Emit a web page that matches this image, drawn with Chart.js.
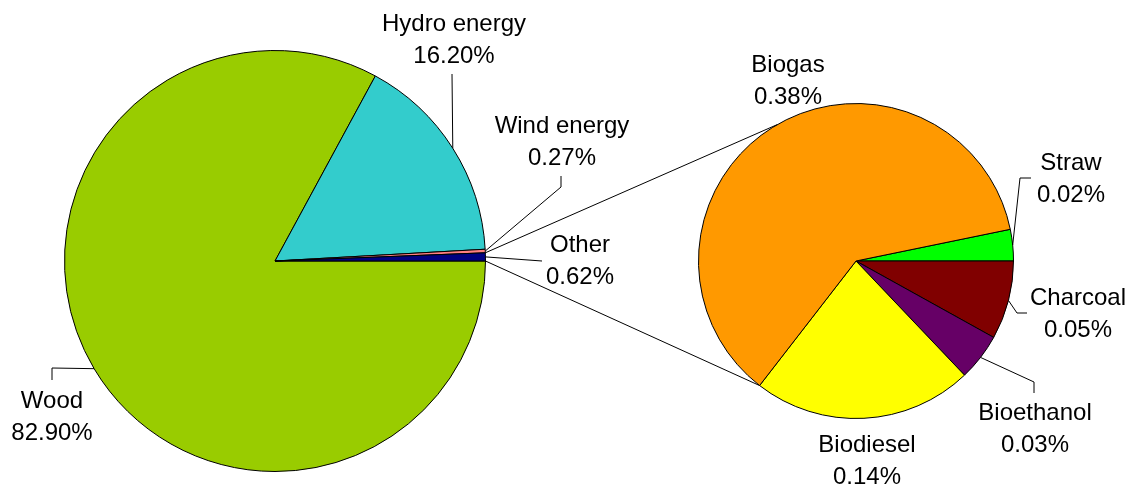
<!DOCTYPE html>
<html>
<head>
<meta charset="utf-8">
<script src="https://cdn.jsdelivr.net/npm/chart.js@4"></script>
<style>
  body { margin: 0; background: #fff; }
  #wrap { position: relative; width: 1131px; height: 485px; }
  #wrap canvas { position: absolute; left: 0; top: 0; }
</style>
</head>
<body>
<div id="wrap">
  <canvas id="mainPie" width="1131" height="485"></canvas>
  <canvas id="subPie" width="1131" height="485"></canvas>
</div>
<script>
// Main pie
const mainLabels = ["Wood", "Hydro energy", "Wind energy", "Other"];
const mainValues = [82.90, 16.20, 0.27, 0.62];
const mainColors = ["#99CC00", "#33CCCC", "#FF8080", "#000080"];

// Breakdown of "Other"
const subLabels = ["Straw", "Charcoal", "Bioethanol", "Biodiesel", "Biogas"];
const subValues = [0.02, 0.05, 0.03, 0.14, 0.38];
const subColors = ["#00FF00", "#800000", "#660066", "#FFFF00", "#FF9900"];

const FONT = '24px "Liberation Sans", Arial, sans-serif';
const LINE_GAP = 32;

// label text position (center x, first baseline) and leader bend points
const mainLabelLayout = [
  { x: 52, y: 408, leader: [[52, 368], [52, 380]] },
  { x: 454, y: 31, leader: [[452, 74]] },
  { x: 562, y: 133, leader: [[561, 187], [561, 176]] },
  { x: 580, y: 252, leader: [[542, 261]] },
];
const subLabelLayout = [
  { x: 1071, y: 170, leader: [[1020, 178], [1031, 178]] },
  { x: 1078, y: 305, leader: [[1017, 313], [1027, 313]] },
  { x: 1035, y: 420, leader: [[1034, 382], [1034, 393]] },
  { x: 867, y: 452, leader: null },
  { x: 788, y: 72, leader: null },
];
const CONNECTOR_TOP_ANGLE = -120; // degrees on the sub pie

let mainChart;

function fmt(v) {
  return v.toFixed(2) + "%";
}

function labelPlugin(labels, values, layout) {
  return {
    id: "pieLabels",
    afterDraw(chart) {
      const ctx = chart.ctx;
      const arcs = chart.getDatasetMeta(0).data;
      ctx.save();
      ctx.strokeStyle = "#000";
      ctx.lineWidth = 1;
      arcs.forEach((arc, i) => {
        const l = layout[i];
        if (l.leader) {
          const mid = (arc.startAngle + arc.endAngle) / 2;
          ctx.beginPath();
          ctx.moveTo(arc.x + Math.cos(mid) * arc.outerRadius, arc.y + Math.sin(mid) * arc.outerRadius);
          l.leader.forEach((p) => ctx.lineTo(p[0], p[1]));
          ctx.stroke();
        }
        ctx.fillStyle = "#000";
        ctx.font = FONT;
        ctx.textAlign = "center";
        ctx.textBaseline = "alphabetic";
        ctx.fillText(labels[i], l.x, l.y);
        ctx.fillText(fmt(values[i]), l.x, l.y + LINE_GAP);
      });
      ctx.restore();
    },
  };
}

// lines joining the "Other" slice to the second pie
const connectorPlugin = {
  id: "connectors",
  afterDraw(chart) {
    if (!mainChart) return;
    const other = mainChart.getDatasetMeta(0).data[3];
    const arcs = chart.getDatasetMeta(0).data;
    const biogas = arcs[4];
    const cx = biogas.x, cy = biogas.y, r = biogas.outerRadius;
    const topA = (CONNECTOR_TOP_ANGLE * Math.PI) / 180;
    const ctx = chart.ctx;
    ctx.save();
    ctx.strokeStyle = "#000";
    ctx.lineWidth = 1;
    ctx.beginPath();
    ctx.moveTo(other.x + Math.cos(other.startAngle) * other.outerRadius, other.y + Math.sin(other.startAngle) * other.outerRadius);
    ctx.lineTo(cx + Math.cos(topA) * r, cy + Math.sin(topA) * r);
    ctx.moveTo(other.x + Math.cos(other.endAngle) * other.outerRadius, other.y + Math.sin(other.endAngle) * other.outerRadius);
    ctx.lineTo(cx + Math.cos(biogas.startAngle) * r, cy + Math.sin(biogas.startAngle) * r);
    ctx.stroke();
    ctx.restore();
  },
};

function pieOptions(padding, rotation) {
  return {
    responsive: false,
    animation: false,
    rotation: rotation,
    layout: { padding: padding },
    plugins: {
      legend: { display: false },
      tooltip: { enabled: false },
    },
  };
}

mainChart = new Chart(document.getElementById("mainPie").getContext("2d"), {
  type: "pie",
  data: {
    labels: mainLabels,
    datasets: [{
      data: mainValues,
      backgroundColor: mainColors,
      borderColor: "#000",
      borderWidth: 1,
    }],
  },
  options: pieOptions({ left: 64, right: 645, top: 50, bottom: 13 }, 90),
  plugins: [labelPlugin(mainLabels, mainValues, mainLabelLayout)],
});

const subTotal = subValues.reduce((a, b) => a + b, 0);
new Chart(document.getElementById("subPie").getContext("2d"), {
  type: "pie",
  data: {
    labels: subLabels,
    datasets: [{
      data: subValues,
      backgroundColor: subColors,
      borderColor: "#000",
      borderWidth: 1,
    }],
  },
  options: pieOptions({ left: 698, right: 117, top: 103, bottom: 66 }, 90 - (subValues[0] / subTotal) * 360),
  plugins: [labelPlugin(subLabels, subValues, subLabelLayout), connectorPlugin],
});
</script>
</body>
</html>
